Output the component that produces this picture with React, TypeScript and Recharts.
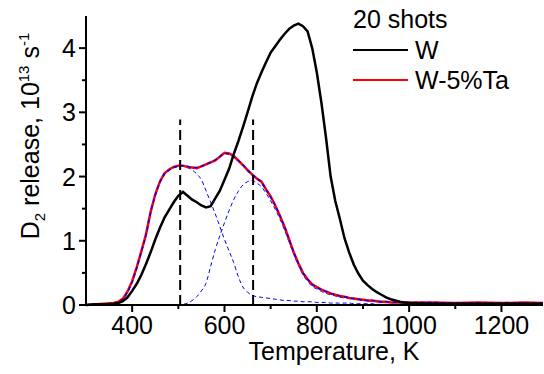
import { Line, LineChart, ReferenceLine, XAxis, YAxis } from "recharts";

const FONT = '"Liberation Sans", Arial, sans-serif';

// temperature grid, K
const temps = [
  300, 320, 340, 360, 370, 380, 390, 400, 410, 420,
  430, 440, 450, 460, 470, 480, 490, 500, 510, 520,
  530, 540, 550, 560, 570, 580, 590, 600, 610, 620,
  630, 640, 650, 660, 670, 680, 690, 700, 710, 720,
  730, 740, 750, 760, 770, 780, 790, 800, 810, 820,
  830, 840, 850, 860, 870, 880, 890, 900, 910, 920,
  930, 940, 950, 960, 970, 980, 990, 1000, 1050, 1100,
  1150, 1200, 1250, 1290,
];

// D2 release, 10^13 s^-1
const releaseW = [
  0.0, 0.01, 0.01, 0.02, 0.03, 0.06, 0.12, 0.22, 0.33, 0.47,
  0.64, 0.82, 1.02, 1.2, 1.36, 1.48, 1.6, 1.7, 1.76, 1.7,
  1.64, 1.6, 1.55, 1.52, 1.54, 1.66, 1.78, 1.95, 2.12, 2.35,
  2.55, 2.77, 3.0, 3.24, 3.45, 3.62, 3.78, 3.93, 4.03, 4.13,
  4.22, 4.3, 4.35, 4.38, 4.34, 4.26, 4.0, 3.62, 3.15, 2.6,
  2.0, 1.62, 1.34, 1.04, 0.82, 0.63, 0.49, 0.38, 0.31, 0.25,
  0.2, 0.16, 0.12, 0.09, 0.07, 0.05, 0.04, 0.03, 0.02, 0.02,
  0.02, 0.02, 0.02, 0.02,
];

const releaseWTa = [
  0.0, 0.01, 0.02, 0.03, 0.05, 0.1, 0.21, 0.37, 0.59, 0.84,
  1.1, 1.45, 1.72, 1.92, 2.05, 2.11, 2.15, 2.17, 2.17, 2.15,
  2.14, 2.13, 2.16, 2.19, 2.22, 2.25, 2.31, 2.37, 2.36, 2.32,
  2.25, 2.18, 2.1, 2.03, 1.97, 1.92, 1.8, 1.69, 1.55, 1.39,
  1.22, 1.02, 0.82, 0.65, 0.5, 0.4, 0.32, 0.28, 0.24, 0.21,
  0.18, 0.16, 0.14, 0.13, 0.11, 0.1, 0.09, 0.08, 0.07, 0.07,
  0.06, 0.05, 0.05, 0.04, 0.04, 0.04, 0.04, 0.04, 0.04, 0.03,
  0.04, 0.03, 0.04, 0.03,
];

// fit of W-5%Ta: total and two components
const fitTotal = [
  0.0, 0.0, 0.0, 0.01, 0.04, 0.09, 0.2, 0.36, 0.58, 0.83,
  1.1, 1.44, 1.71, 1.91, 2.04, 2.1, 2.14, 2.16, 2.17, 2.16,
  2.14, 2.14, 2.16, 2.19, 2.22, 2.26, 2.31, 2.36, 2.35, 2.31,
  2.25, 2.18, 2.1, 2.03, 1.97, 1.91, 1.8, 1.68, 1.55, 1.39,
  1.22, 1.02, 0.82, 0.65, 0.5, 0.4, 0.32, 0.27, 0.24, 0.21,
  0.18, 0.16, 0.14, 0.13, 0.11, 0.1, 0.09, 0.08, 0.07, 0.07,
  0.06, 0.05, 0.05, 0.05, 0.04, 0.04, 0.04, 0.04, 0.04, 0.03,
  0.03, 0.03, 0.03, 0.03,
];

const fitPeak1 = [
  0.0, 0.0, 0.0, 0.01, 0.04, 0.09, 0.2, 0.36, 0.58, 0.83,
  1.1, 1.44, 1.71, 1.91, 2.04, 2.1, 2.14, 2.16, 2.16, 2.14,
  2.1, 2.04, 1.95, 1.78, 1.6, 1.42, 1.22, 1.02, 0.84, 0.66,
  0.44, 0.28, 0.2, 0.15, 0.13, 0.12, 0.11, 0.1, 0.09, 0.08,
  0.07, 0.07, 0.06, 0.06, 0.05, 0.05, 0.05, 0.04, 0.04, 0.04,
  0.03, 0.03, 0.03, 0.03, 0.03, 0.02, 0.02, 0.02, 0.02, 0.02,
  0.01, 0.01, 0.01, 0.01, 0.01, 0.01, 0.01, 0.01, 0.0, 0.0,
  0.0, 0.0, 0.0, 0.0,
];

const fitPeak2 = [
  0, 0, 0, 0, 0, 0, 0, 0, 0, 0,
  0, 0, 0, 0, 0, 0, 0, 0, 0.01, 0.03,
  0.07, 0.13, 0.22, 0.34, 0.6, 0.86, 1.08, 1.28, 1.47, 1.64,
  1.77, 1.87, 1.92, 1.94, 1.9, 1.84, 1.74, 1.62, 1.49, 1.34,
  1.17, 0.98, 0.79, 0.62, 0.47, 0.37, 0.29, 0.25, 0.21, 0.18,
  0.16, 0.14, 0.12, 0.11, 0.1, 0.09, 0.08, 0.07, 0.06, 0.06,
  0.05, 0.05, 0.04, 0.04, 0.04, 0.04, 0.03, 0.03, 0.03, 0.03,
  0.03, 0.03, 0.03, 0.03,
];

// peak positions marked with dashed lines
const peakMarks = [504, 662];
const peakMarkTop = 2.89;

const xTicks = [400, 500, 600, 700, 800, 900, 1000, 1100, 1200];
const yTicks = [0, 0.5, 1, 1.5, 2, 2.5, 3, 3.5, 4];

const legendTitle = "20 shots";
const legendItems = [
  { name: "W", color: "#000000" },
  { name: "W-5%Ta", color: "#ff0000" },
];

const data = temps.map((t, i) => ({
  t,
  w: releaseW[i],
  ta: releaseWTa[i],
  fit: fitTotal[i],
  p1: fitPeak1[i],
  p2: fitPeak2[i],
}));

function XTick({ x, y, payload }: any) {
  const major = payload.value % 200 === 0;
  return (
    <g>
      <line x1={x} y1={y} x2={x} y2={y + (major ? 7 : 4)} stroke="#000" strokeWidth={2} />
      {major && (
        <text x={x} y={y + 29} textAnchor="middle" fontSize={25} fontFamily={FONT} fill="#000">
          {payload.value}
        </text>
      )}
    </g>
  );
}

function YTick({ x, y, payload }: any) {
  const major = Number.isInteger(payload.value);
  return (
    <g>
      <line x1={x - (major ? 7 : 4)} y1={y} x2={x} y2={y} stroke="#000" strokeWidth={2} />
      {major && (
        <text x={x - 10} y={y + 9} textAnchor="end" fontSize={25} fontFamily={FONT} fill="#000">
          {payload.value}
        </text>
      )}
    </g>
  );
}

export default function App() {
  return (
    <div style={{ position: "absolute", left: 0, top: 0, width: 544, height: 374, background: "#fff" }}>
      <LineChart
        width={544}
        height={374}
        data={data}
        margin={{ top: 16, right: 1, left: 26, bottom: 9 }}
      >
        <XAxis
          dataKey="t"
          type="number"
          domain={[300, 1290]}
          ticks={xTicks}
          tick={<XTick />}
          tickLine={false}
          tickSize={0}
          tickMargin={0}
          height={60}
          axisLine={{ stroke: "#000", strokeWidth: 2 }}
          interval={0}
        />
        <YAxis
          type="number"
          domain={[0, 4.5]}
          ticks={yTicks}
          tick={<YTick />}
          tickLine={false}
          tickSize={0}
          tickMargin={0}
          width={60}
          axisLine={{ stroke: "#000", strokeWidth: 2 }}
          interval={0}
        />
        <Line type="monotone" dataKey="p1" stroke="#0000ff" strokeWidth={1} strokeDasharray="4 3" dot={false} isAnimationActive={false} />
        <Line type="monotone" dataKey="p2" stroke="#0000ff" strokeWidth={1} strokeDasharray="4 3" dot={false} isAnimationActive={false} />
        <Line type="linear" dataKey="ta" stroke="#ff0000" strokeWidth={2.5} dot={false} isAnimationActive={false} />
        <Line type="monotone" dataKey="fit" stroke="#0000ff" strokeWidth={1.5} strokeDasharray="4 3" dot={false} isAnimationActive={false} />
        <Line type="linear" dataKey="w" stroke="#000000" strokeWidth={2.5} dot={false} isAnimationActive={false} />
        {peakMarks.map((m) => (
          <ReferenceLine
            key={m}
            segment={[{ x: m, y: 0 }, { x: m, y: peakMarkTop }]}
            stroke="#000"
            strokeWidth={2}
            strokeDasharray="10 5"
          />
        ))}
      </LineChart>
      <svg
        width={544}
        height={374}
        style={{ position: "absolute", left: 0, top: 0, pointerEvents: "none" }}
        fontFamily={FONT}
        fill="#000"
      >
        <text x={334} y={360} textAnchor="middle" fontSize={25}>
          Temperature, K
        </text>
        <text transform="translate(39,136) rotate(-90)" textAnchor="middle" fontSize={25}>
          D<tspan dy={6} fontSize={15}>2</tspan>
          <tspan dy={-6}> release, 10</tspan>
          <tspan dy={-10} fontSize={15}>13</tspan>
          <tspan dy={10}> s</tspan>
          <tspan dy={-10} fontSize={15}>-1</tspan>
        </text>
        <text x={353} y={28} fontSize={25}>
          {legendTitle}
        </text>
        {legendItems.map((item, i) => (
          <g key={item.name}>
            <line x1={353} y1={50 + i * 30} x2={408} y2={50 + i * 30} stroke={item.color} strokeWidth={2} />
            <text x={415} y={59 + i * 30} fontSize={25}>
              {item.name}
            </text>
          </g>
        ))}
      </svg>
    </div>
  );
}
